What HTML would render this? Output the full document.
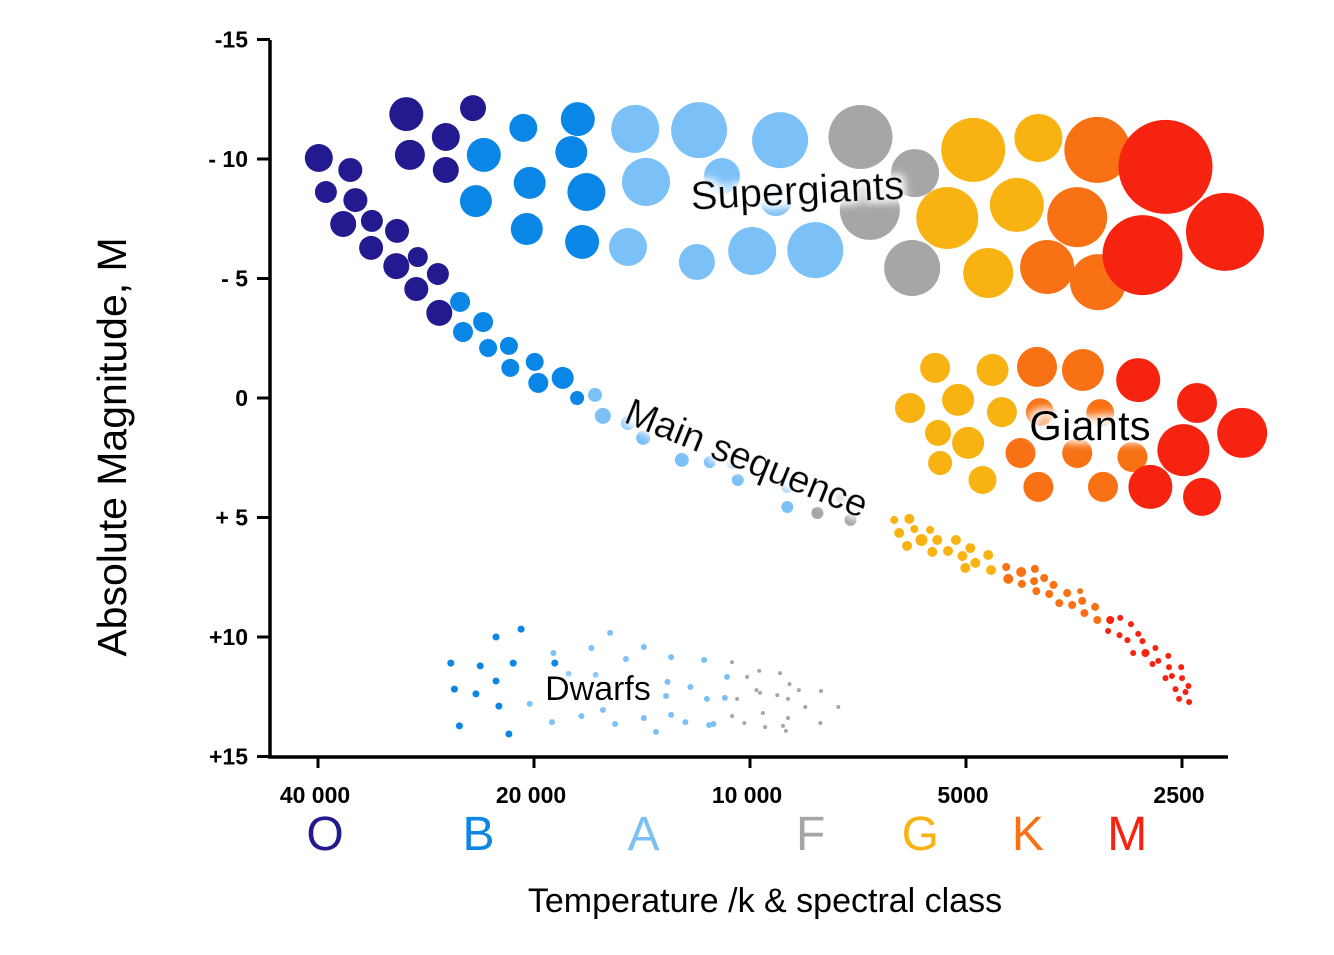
<!DOCTYPE html>
<html><head><meta charset="utf-8">
<style>
html,body{margin:0;padding:0;background:#fff;}
svg{display:block;}
text{font-family:"Liberation Sans",sans-serif;}
</style></head>
<body>
<svg id="chart" width="1334" height="955" viewBox="0 0 1334 955">
<defs>
<filter id="glow" x="-20%" y="-40%" width="140%" height="180%">
<feMorphology in="SourceAlpha" operator="dilate" radius="3" result="d"/>
<feGaussianBlur in="d" stdDeviation="4" result="b"/>
<feFlood flood-color="#ffffff" flood-opacity="0.95"/>
<feComposite in2="b" operator="in" result="w"/>
<feMerge><feMergeNode in="w"/><feMergeNode in="SourceGraphic"/></feMerge>
</filter>
</defs>
<g id="marks"></g>
<g id="axes"></g>
<g id="labels"></g>
</svg>
<script>
// ---- data: [log10 T, absolute magnitude, size] ----
const sgNavy=[[4.479,-11.88,17],[4.386,-12.13,13],[4.474,-10.17,15],[4.424,-10.92,14],[4.424,-9.54,13]];
const msNavy=[[4.601,-10.04,14],[4.557,-9.54,12],[4.591,-8.62,11],[4.550,-8.28,12],[4.567,-7.28,13],[4.527,-7.41,11],[4.492,-6.99,12],[4.528,-6.28,12],[4.493,-5.52,13],[4.463,-5.90,10],[4.435,-5.19,11],[4.465,-4.56,12],[4.433,-3.56,13]];
const sgBlue=[[4.316,-11.30,14],[4.371,-10.17,17],[4.240,-11.67,17],[4.249,-10.29,16],[4.307,-9.00,16],[4.228,-8.62,19],[4.382,-8.24,16],[4.311,-7.07,16],[4.234,-6.53,17]];
const msBlue=[[4.404,-4.02,10],[4.400,-2.76,10],[4.372,-3.18,10],[4.365,-2.09,9],[4.336,-2.18,9],[4.334,-1.26,9],[4.300,-1.51,9],[4.295,-0.63,10],[4.261,-0.84,11],[4.241,0.00,7]];
const sgLight=[[4.160,-11.26,24],[4.071,-11.21,28],[3.958,-10.79,28],[4.145,-9.04,24],[4.039,-9.29,18],[3.964,-8.28,16],[4.170,-6.32,19],[4.074,-5.69,18],[3.997,-6.15,24],[3.909,-6.19,28]];
const msLight=[[4.216,-0.13,7],[4.205,0.75,8],[4.170,1.05,7],[4.149,1.67,7],[4.095,2.59,7],[4.093,1.59,6],[4.056,2.68,6],[4.024,2.72,6],[4.017,3.43,6],[3.948,3.72,6],[3.948,4.56,6]];
const msGray=[[3.872,4.18,6],[3.906,4.81,6],[3.860,5.10,6]];
const sgGray=[[3.846,-10.92,32],[3.770,-9.41,24],[3.833,-7.87,30],[3.774,-5.44,28]];
const sgYellow=[[3.689,-10.38,32],[3.598,-10.88,24],[3.725,-7.53,31],[3.628,-8.08,27],[3.668,-5.23,25]];
const sgOrange=[[3.516,-10.38,33],[3.544,-7.57,30],[3.586,-5.48,27],[3.515,-4.85,28]];
const sgRed=[[3.421,-9.67,47],[3.338,-6.95,39],[3.453,-5.98,40]];
const gYellow=[[3.742,-1.26,15],[3.662,-1.17,16],[3.777,0.42,15],[3.710,0.08,16],[3.649,0.59,15],[3.738,1.46,13],[3.696,1.88,16],[3.735,2.72,12],[3.676,3.43,14]];
const gOrange=[[3.600,-1.30,20],[3.536,-1.17,21],[3.623,2.30,15],[3.598,3.72,15],[3.508,3.72,15],[3.596,0.59,14],[3.512,0.63,14],[3.544,2.30,15],[3.467,2.47,15]];
const gRed=[[3.459,-0.75,22],[3.377,0.21,20],[3.314,1.46,25],[3.396,2.18,26],[3.442,3.72,22],[3.370,4.14,19]];
const msYellow=[[3.799,5.10,4],[3.778,5.06,5],[3.792,5.65,5],[3.771,5.48,4],[3.749,5.52,4],[3.781,6.19,5],[3.761,5.94,6],[3.739,5.94,5],[3.746,6.44,5],[3.724,6.40,5],[3.713,5.94,5],[3.693,6.28,5],[3.704,6.61,5],[3.686,6.90,5],[3.668,6.57,5],[3.700,7.11,5],[3.664,7.20,5]];
const msOrange=[[3.643,7.07,4],[3.622,7.28,5],[3.603,7.15,4],[3.590,7.53,4],[3.640,7.57,5],[3.621,7.78,4],[3.604,7.66,4],[3.577,7.82,4],[3.601,8.08,4],[3.583,8.20,4],[3.558,8.16,4],[3.540,8.08,3],[3.569,8.58,4],[3.551,8.66,4],[3.537,8.49,4],[3.519,8.74,4],[3.534,9.00,4],[3.516,9.29,4]];
const msRed=[[3.498,9.29,4],[3.484,9.20,3],[3.469,9.46,3],[3.501,9.75,3],[3.485,9.92,3],[3.459,9.87,3],[3.474,10.13,3],[3.453,10.17,3],[3.435,10.46,3],[3.466,10.67,3],[3.449,10.67,4],[3.417,10.79,3],[3.431,11.00,3],[3.439,11.13,3],[3.399,11.26,3],[3.416,11.26,3],[3.421,11.72,3],[3.412,11.63,3],[3.398,11.72,3],[3.389,12.05,3],[3.407,12.18,3],[3.393,12.30,3],[3.402,12.59,3],[3.388,12.72,3]];
const dBlue=[[4.417,11.09,3.5],[4.376,11.21,3.5],[4.330,11.09,3.5],[4.354,10.00,3.5],[4.319,9.67,3.5],[4.272,11.09,3.5],[4.412,12.18,3.5],[4.382,12.38,3.5],[4.354,11.84,3.5],[4.350,12.89,3.5],[4.405,13.72,3.5],[4.336,14.06,3.5]];
const dLight=[[4.274,10.67,3],[4.221,10.46,3],[4.195,9.83,3],[4.173,10.92,3],[4.148,10.42,3],[4.110,10.84,3],[4.064,10.96,3],[4.253,11.55,3],[4.215,11.59,3],[4.115,11.88,3],[4.083,12.09,3],[4.032,11.67,3],[4.307,12.80,3],[4.117,12.47,3],[4.060,12.59,3],[4.035,12.55,3],[4.276,13.56,3],[4.235,13.31,3],[4.205,13.05,3],[4.188,13.64,3],[4.148,13.39,3],[4.110,13.26,3],[4.090,13.56,3],[4.131,13.97,3],[4.057,13.68,3],[4.051,13.64,3]];
const dGray=[[4.025,11.05,2],[4.004,11.67,2],[3.987,11.42,2],[3.958,11.51,2],[3.945,11.97,2],[3.991,12.22,2],[3.986,12.34,2],[3.962,12.43,2],[3.947,12.59,2],[3.932,12.22,2],[3.901,12.26,2],[4.018,12.59,2],[3.923,12.93,2],[3.877,12.93,2],[4.025,13.31,2],[3.982,13.18,2],[3.947,13.39,2],[4.008,13.60,2],[3.979,13.77,2],[3.954,13.72,2],[3.950,13.93,2],[3.902,13.60,2]];
const yTicks=[-15,-10,-5,0,5,10,15];
const yTickLabels=["-15","- 10","- 5","0","+ 5","+10","+15"];
const xTicks=[40000,20000,10000,5000,2500];
const xTickLabels=["40 000","20 000","10 000","5000","2500"];
const classes=["O","B","A","F","G","K","M"];
const classTemps=[39100,23900,14070,8230,5790,4100,2980];

const NS="http://www.w3.org/2000/svg";
const X0=318, PXOCT=216, Y0=398, PXMAG=23.9;
function xs(logT){return X0+(Math.log10(40000)-logT)/Math.log10(2)*PXOCT;}
function xt(T){return xs(Math.log10(T));}
function ys(m){return Y0+m*PXMAG;}
function mk(tag,attrs,parent,txt){const e=document.createElementNS(NS,tag);for(const k in attrs)e.setAttribute(k,attrs[k]);if(txt!==undefined)e.textContent=txt;parent.appendChild(e);return e;}

const marks=document.getElementById('marks');
const groups=[
 [sgNavy,'#221a8e','supergiant-o'],[msNavy,'#221a8e','main-sequence-o'],
 [sgBlue,'#0a86e6','supergiant-b'],[msBlue,'#0a86e6','main-sequence-b'],
 [sgLight,'#7cc0f8','supergiant-a'],[msLight,'#7cc0f8','main-sequence-a'],
 [msGray,'#a6a6a6','main-sequence-f'],[sgGray,'#a6a6a6','supergiant-f'],
 [sgYellow,'#f8b313','supergiant-g'],[sgOrange,'#f87114','supergiant-k'],[sgRed,'#f5230f','supergiant-m'],
 [gYellow,'#f8b313','giant-g'],[gOrange,'#f87114','giant-k'],[gRed,'#f5230f','giant-m'],
 [msYellow,'#f8b313','main-sequence-g'],[msOrange,'#f87114','main-sequence-k'],[msRed,'#f5230f','main-sequence-m'],
 [dBlue,'#0a86e6','dwarf-b'],[dLight,'#7cc0f8','dwarf-a'],[dGray,'#a6a6a6','dwarf-f']
];
groups.forEach(g=>{
  g[0].forEach(p=>{
    const c=mk('circle',{cx:xs(p[0]).toFixed(1),cy:ys(p[1]).toFixed(1),r:p[2],fill:g[1]},marks);
    
    
  });
});

const axes=document.getElementById('axes');
const ya=mk('line',{x1:270,y1:40,x2:270,y2:757,stroke:'#000','stroke-width':3.5},axes);


const xa=mk('line',{x1:268,y1:757,x2:1228,y2:757,stroke:'#000','stroke-width':3.5},axes);


yTicks.forEach((v,i)=>{
  const y=ys(v);
  const t=mk('line',{x1:257,y1:y,x2:270,y2:y,stroke:'#000','stroke-width':3},axes);
  
  
  const l=mk('text',{x:248,y:y+8,'text-anchor':'end','font-size':23,'font-weight':'bold',fill:'#000'},axes,yTickLabels[i]);
  
  
});
xTicks.forEach((v,i)=>{
  const x=xt(v);
  const t=mk('line',{x1:x,y1:757,x2:x,y2:768,stroke:'#000','stroke-width':3},axes);
  
  
  const l=mk('text',{x:x-3,y:803,'text-anchor':'middle','font-size':23,'font-weight':'bold',fill:'#000'},axes,xTickLabels[i]);
  
  
});
const ccol=['#221a8e','#0a86e6','#7cc0f8','#a6a6a6','#f8b313','#f87114','#f5230f'];
classes.forEach((c,i)=>{
  const l=mk('text',{x:xt(classTemps[i]),y:850,'text-anchor':'middle','font-size':48,fill:ccol[i]},axes,c);
  
  
});
</script>
<script>
(function(){
const NS="http://www.w3.org/2000/svg";
const lab=document.getElementById('labels');
function t(attrs,txt,name){const e=document.createElementNS(NS,'text');for(const k in attrs)e.setAttribute(k,attrs[k]);e.textContent=txt;lab.appendChild(e);


return e;}
t({x:765,y:912,'text-anchor':'middle','font-size':34,fill:'#000'},'Temperature /k  & spectral class','x-axis-title');
t({x:0,y:0,'text-anchor':'middle','font-size':41,fill:'#000',transform:'translate(126,447) rotate(-90)'},'Absolute Magnitude, M','y-axis-title');
t({x:0,y:0,'text-anchor':'middle','font-size':40,fill:'#000',filter:'url(#glow)',transform:'translate(798,204) rotate(-3)'},'Supergiants','supergiants-label');
t({x:0,y:0,'text-anchor':'middle','font-size':38,fill:'#000',filter:'url(#glow)',transform:'translate(742,470) rotate(22)'},'Main sequence','main-sequence-label');
t({x:1090,y:440,'text-anchor':'middle','font-size':42,fill:'#000',filter:'url(#glow)'},'Giants','giants-label');
t({x:598,y:700,'text-anchor':'middle','font-size':34,fill:'#000',filter:'url(#glow)'},'Dwarfs','dwarfs-label');
})();
</script>
</body></html>
